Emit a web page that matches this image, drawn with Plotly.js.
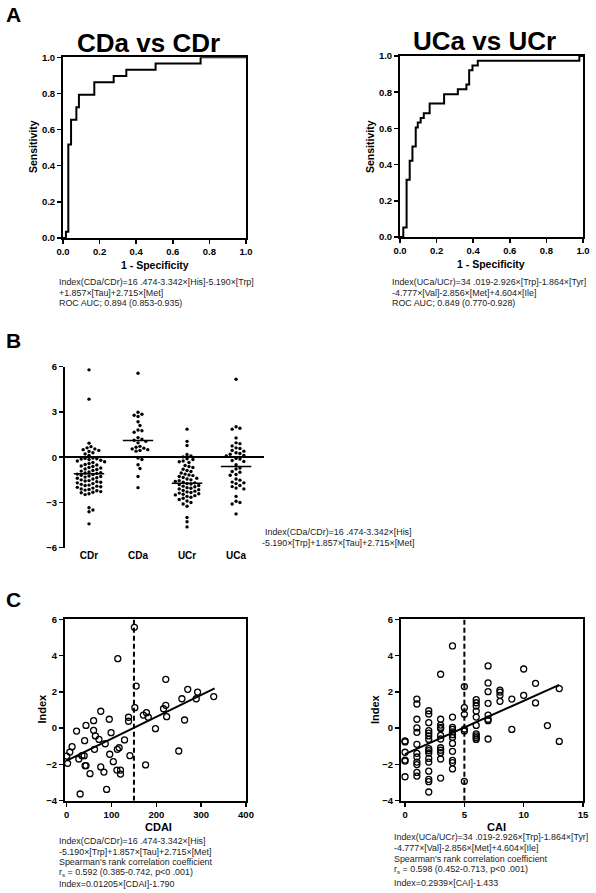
<!DOCTYPE html>
<html><head><meta charset="utf-8">
<script src="https://cdn.plot.ly/plotly-3.0.1.min.js"></script>
<style>html,body{margin:0;padding:0;background:#fff}#chart{width:596px;height:893px}</style>
</head><body><div id="chart"></div>
<script>
// ---- Panel A: ROC curves ----
const cdFpr = [0, 0.016, 0.029, 0.044, 0.073, 0.087, 0.171, 0.277, 0.346, 0.506, 0.752, 1.0];
const cdTpr = [0, 0.034, 0.517, 0.655, 0.724, 0.793, 0.862, 0.897, 0.931, 0.966, 1.0, 1.0];
const ucFpr = [0, 0.018, 0.036, 0.053, 0.068, 0.086, 0.097, 0.113, 0.130, 0.162, 0.241, 0.316, 0.363, 0.378, 0.396, 0.425, 0.980, 1.0];
const ucTpr = [0, 0.053, 0.316, 0.421, 0.500, 0.605, 0.632, 0.658, 0.684, 0.737, 0.789, 0.816, 0.842, 0.921, 0.947, 0.974, 1.0, 1.0];
const rocTicks = [0, 0.2, 0.4, 0.6, 0.8, 1.0];
const rocTickText = ['0.0', '0.2', '0.4', '0.6', '0.8', '1.0'];

// ---- Panel B: index by group ----
const groups = ['CDr', 'CDa', 'UCr', 'UCa'];
const cdrVals = [5.79, 3.85, 0.93, 0.70, 0.62, 0.55, 0.50, 0.45, 0.38, 0.30, 0.22, 0.12,
  -0.05, -0.08, -0.10, -0.12, -0.15, -0.20, -0.25, -0.30, -0.35,
  -0.42, -0.48, -0.52, -0.58, -0.62, -0.68, -0.72, -0.78, -0.82, -0.88,
  -0.92, -0.98, -1.02, -1.05, -1.08, -1.12, -1.15, -1.20,
  -1.25, -1.28, -1.32, -1.36, -1.40, -1.45,
  -1.50, -1.55, -1.58, -1.62, -1.66, -1.70, -1.75,
  -1.80, -1.85, -1.88, -1.92, -1.96, -2.00,
  -2.05, -2.10, -2.14, -2.18, -2.22,
  -2.28, -2.32, -2.36, -2.42, -2.48,
  -3.35, -3.50, -3.62, -4.42];
const cdaVals = [5.57, 2.98, 2.85, 2.78, 2.70, 2.35, 2.10, 1.80, 1.75, 1.65, 1.30, 1.20, 1.12, 1.05,
  0.95, 0.72, 0.66, 0.60, 0.55, 0.50, 0.45, 0.40, -0.05, -0.15, -0.50, -0.75, -1.28, -2.02];
const ucrVals = [1.86, 1.05, 0.78, 0.18, 0.08, 0.02, -0.10, -0.15, -0.25, -0.30, -0.35,
  -0.55, -0.62, -0.68, -0.80, -0.88, -0.95,
  -1.05, -1.12, -1.18, -1.22, -1.28, -1.35, -1.40, -1.45, -1.50, -1.55,
  -1.60, -1.65, -1.70, -1.75, -1.78, -1.82, -1.88, -1.92, -1.96,
  -2.02, -2.06, -2.10, -2.15, -2.20, -2.25, -2.30, -2.34, -2.38,
  -2.42, -2.46, -2.50, -2.55, -2.60, -2.66, -2.72, -2.80,
  -2.90, -3.00, -3.10, -3.25, -4.00, -4.28, -4.62];
const ucaVals = [5.17, 2.02, 1.92, 1.86, 1.28, 0.95, 0.90, 0.75, 0.62, 0.58, 0.45, 0.40, 0.30, 0.25, 0.20,
  0.12, 0.08, -0.08, -0.12, -0.22, -0.28, -0.50, -0.72, -0.78, -0.95, -1.00, -1.15, -1.20, -1.45,
  -1.52, -1.65, -1.70, -1.75, -1.88, -1.95, -2.05, -2.10, -2.60, -2.92, -3.00, -3.10, -3.76];
const groupCenters = [-1.10, 1.10, -1.72, -0.62];

// ---- Panel C: correlation with activity indices ----
const cdaiX = [151, 114, 155, 221, 270, 292, 328, 289, 257, 221, 216, 152, 178, 182, 171, 223, 263, 76, 138, 138, 95, 60, 43, 22, 60, 99, 198, 64, 72, 40, 129, 86, 12, 117, 113, 62, 7, 0, 39, 34, 96, 141, 27, 104, 2, 43, 41, 176, 76, 112, 120, 120, 83, 52, 250, 89, 30];
const cdaiY = [5.56, 3.83, 2.32, 2.69, 2.14, 1.99, 1.74, 1.62, 1.62, 1.26, 1.07, 1.13, 0.85, 0.60, 0.72, 0.63, 0.45, 0.93, 0.60, 0.38, 0.49, 0.41, 0.15, -0.16, -0.12, -0.25, -0.03, -0.43, -0.62, -0.69, -0.65, -0.86, -1.02, -1.08, -1.17, -1.17, -1.32, -1.54, -1.52, -1.52, -1.44, -1.52, -1.70, -1.85, -1.94, -2.07, -2.07, -2.03, -2.14, -2.31, -2.31, -2.53, -2.42, -2.51, -1.26, -3.38, -3.63];
const cdaiFitX = [0, 330];
const cdaiFitY = [-1.790, 2.187];
const cdaiCutoff = 150;

const caiX = [0,0,0,0,0,0,
  1,1,1,1,1,1,1,1,1,1,1,1,
  2,2,2,2,2,2,2,2,2,2,2,2,2,2,2,2,
  3,3,3,3,3,3,3,3,3,3,3,3,
  4,4,4,4,4,4,4,4,4,4,4,4,
  5,5,5,5,5,5,
  6,6,6,6,6,6,6,6,6,6,
  7,7,7,7,7,7,7,7,
  8,8,8,8, 9,9, 10,10, 11,11, 12, 13,13];
const caiY = [-0.71, -0.76, -1.33, -1.76, -1.82, -2.68,
  1.60, 1.33, 0.49, 0.01, -0.23, -0.89, -1.39, -1.59, -1.87, -2.01, -2.44, -2.64,
  0.96, 0.78, 0.30, -0.14, -0.27, -0.43, -0.62, -1.13, -1.24, -1.37, -1.67, -1.87, -2.37, -2.82, -2.95, -3.52,
  2.97, 0.49, 0.17, 0.04, -0.03, -0.40, -0.60, -1.08, -1.22, -1.35, -1.70, -2.75,
  4.53, 0.61, 0.04, -0.07, -0.21, -0.36, -0.51, -0.84, -1.28, -1.78, -1.90, -2.25,
  2.29, 1.13, 0.76, -0.05, -0.16, -2.93,
  1.57, 1.40, 1.22, 0.94, 0.61, 0.15, -0.32, -0.43, -0.53, -0.62,
  3.43, 2.49, 2.01, 1.37, 0.72, 0.49, 0.41, -0.60,
  2.10, 1.99, 1.81, 1.48, 1.60, -0.07, 3.26, 1.81, 2.47, 1.39, 0.14, 2.18, -0.73];
const caiFitX = [0, 13];
const caiFitY = [-1.433, 2.388];
const caiCutoff = 5;

// ---------------- layout helpers ----------------
const W = 596, H = 893;
const px = v => v / W;
const py = v => 1 - v / H;
const FONT = 'Liberation Sans, Arial, Helvetica, sans-serif';
const tickFont = {family: FONT, size: 9.5, color: '#000', weight: 'bold'};

// beeswarm layout computed from the values
function swarm(vals, center) {
  const sx = 49, sy = 15.08, d = 3.9;
  const placed = [];
  const xs = new Array(vals.length);
  const order = vals.map((v, i) => i).sort((a, b) => vals[b] - vals[a]);
  for (const i of order) {
    const yp = vals[i] * sy;
    let k = 0, off = 0;
    for (;;) {
      off = k === 0 ? 0 : (k % 2 ? 1 : -1) * Math.ceil(k / 2) * d * 0.5;
      if (!placed.some(p => Math.hypot(p[0] - off, p[1] - yp) < d)) break;
      k++;
    }
    placed.push([off, yp]);
    xs[i] = center + off / sx;
  }
  return xs;
}

const traces = [];
// A
traces.push({x: cdFpr, y: cdTpr, xaxis: 'x', yaxis: 'y', type: 'scatter', mode: 'lines',
  line: {shape: 'hv', color: '#000', width: 2}, cliponaxis: false, hoverinfo: 'skip'});
traces.push({x: ucFpr, y: ucTpr, xaxis: 'x2', yaxis: 'y2', type: 'scatter', mode: 'lines',
  line: {shape: 'hv', color: '#000', width: 2}, cliponaxis: false, hoverinfo: 'skip'});
// B
const allGroups = [cdrVals, cdaVals, ucrVals, ucaVals];
allGroups.forEach((vals, g) => {
  traces.push({x: swarm(vals, g), y: vals, xaxis: 'x3', yaxis: 'y3', type: 'scatter', mode: 'markers',
    marker: {size: 3.4, color: '#000'}, cliponaxis: false, hoverinfo: 'skip'});
  traces.push({x: [g - 0.31, g + 0.31], y: [groupCenters[g], groupCenters[g]], xaxis: 'x3', yaxis: 'y3',
    type: 'scatter', mode: 'lines', line: {color: '#000', width: 1.5}, hoverinfo: 'skip'});
});
// C left
traces.push({x: [cdaiCutoff, cdaiCutoff], y: [-4, 6], xaxis: 'x4', yaxis: 'y4', type: 'scatter', mode: 'lines',
  line: {color: '#000', width: 2, dash: '5px,3px'}, hoverinfo: 'skip'});
traces.push({x: cdaiFitX, y: cdaiFitY, xaxis: 'x4', yaxis: 'y4', type: 'scatter', mode: 'lines',
  line: {color: '#000', width: 2}, hoverinfo: 'skip'});
traces.push({x: cdaiX, y: cdaiY, xaxis: 'x4', yaxis: 'y4', type: 'scatter', mode: 'markers',
  marker: {symbol: 'circle-open', size: 6, color: '#000', line: {width: 1.3}}, cliponaxis: false, hoverinfo: 'skip'});
// C right
traces.push({x: [caiCutoff, caiCutoff], y: [-4, 6], xaxis: 'x5', yaxis: 'y5', type: 'scatter', mode: 'lines',
  line: {color: '#000', width: 2, dash: '5px,3px'}, hoverinfo: 'skip'});
traces.push({x: caiFitX, y: caiFitY, xaxis: 'x5', yaxis: 'y5', type: 'scatter', mode: 'lines',
  line: {color: '#000', width: 2}, hoverinfo: 'skip'});
traces.push({x: caiX, y: caiY, xaxis: 'x5', yaxis: 'y5', type: 'scatter', mode: 'markers',
  marker: {symbol: 'circle-open', size: 6, color: '#000', line: {width: 1.3}}, cliponaxis: false, hoverinfo: 'skip'});

function boxAxis(extra) {
  return Object.assign({showline: true, mirror: true, linewidth: 2, linecolor: '#000', ticks: 'outside',
    ticklen: 4, tickwidth: 1.5, tickcolor: '#000', showgrid: false, zeroline: false, tickfont: tickFont,
    fixedrange: true, automargin: false}, extra);
}

const layout = {
  width: W, height: H, margin: {l: 0, r: 0, t: 0, b: 0}, showlegend: false,
  paper_bgcolor: '#fff', plot_bgcolor: 'rgba(0,0,0,0)', font: {family: FONT, color: '#000'},
  xaxis: boxAxis({domain: [px(63), px(246)], range: [0, 1], anchor: 'y', tickvals: rocTicks, ticktext: rocTickText}),
  yaxis: boxAxis({domain: [py(238), py(57.3)], range: [0, 1], anchor: 'x', tickvals: rocTicks, ticktext: rocTickText}),
  xaxis2: boxAxis({domain: [px(400), px(583)], range: [0, 1], anchor: 'y2', tickvals: rocTicks, ticktext: rocTickText}),
  yaxis2: boxAxis({domain: [py(237), py(56)], range: [0, 1], anchor: 'x2', tickvals: rocTicks, ticktext: rocTickText}),
  xaxis3: {domain: [px(65), px(264)], range: [-0.49, 3.57], anchor: 'y3', showline: false, ticks: '',
    tickvals: [0, 1, 2, 3], ticktext: groups, showgrid: false, zeroline: false,
    tickfont: {family: FONT, size: 10, color: '#000', weight: 'bold'}, fixedrange: true},
  yaxis3: {domain: [py(547.7), py(366.7)], range: [-6, 6], anchor: 'x3', showline: true, linewidth: 2, linecolor: '#000',
    ticks: 'outside', ticklen: 4, tickwidth: 1.5, tickcolor: '#000', tickvals: [-6, -3, 0, 3, 6],
    showgrid: false, zeroline: true, zerolinewidth: 2, zerolinecolor: '#000', tickfont: tickFont, fixedrange: true},
  xaxis4: boxAxis({domain: [px(65), px(246)], range: [-3.8, 400], anchor: 'y4', tickvals: [0, 100, 200, 300, 400]}),
  yaxis4: boxAxis({domain: [py(800.7), py(619.3)], range: [-4, 6], anchor: 'x4', tickvals: [-4, -2, 0, 2, 4, 6]}),
  xaxis5: boxAxis({domain: [px(401), px(583)], range: [-0.34, 15], anchor: 'y5', tickvals: [0, 5, 10, 15]}),
  yaxis5: boxAxis({domain: [py(800.7), py(619.3)], range: [-4, 6], anchor: 'x5', tickvals: [-4, -2, 0, 2, 4, 6]}),
  annotations: []
};

function txt(text, x, y, opts) {
  layout.annotations.push(Object.assign({text: text, xref: 'paper', yref: 'paper', x: px(x), y: py(y),
    xanchor: 'left', yanchor: 'middle', showarrow: false,
    font: {family: FONT, size: 8.9, color: '#222'}}, opts || {}));
}
const bold = (s) => ({family: FONT, size: s, color: '#000', weight: 'bold'});
// panel letters
txt('A', 4, 15, {font: bold(21)});
txt('B', 4, 341, {font: bold(21)});
txt('C', 4, 599, {font: bold(21)});
// titles
txt('CDa vs CDr', 148, 43, {xanchor: 'center', font: bold(26)});
txt('UCa vs UCr', 484, 41, {xanchor: 'center', font: bold(26)});
// axis titles
txt('Sensitivity', 33, 147, {xanchor: 'center', textangle: -90, font: bold(10.5)});
txt('1 - Specificity', 155, 265, {xanchor: 'center', font: bold(10.5)});
txt('Sensitivity', 370, 147, {xanchor: 'center', textangle: -90, font: bold(10.5)});
txt('1 - Specificity', 491, 264, {xanchor: 'center', font: bold(10.5)});
txt('Index', 41.5, 709, {xanchor: 'center', textangle: -90, font: bold(11)});
txt('CDAI', 158, 827, {xanchor: 'center', font: bold(11)});
txt('Index', 375, 709, {xanchor: 'center', textangle: -90, font: bold(11)});
txt('CAI', 496, 827, {xanchor: 'center', font: bold(11)});
// A notes
txt('Index(CDa/CDr)=16 .474-3.342×[His]-5.190×[Trp]', 57, 282);
txt('+1.857×[Tau]+2.715×[Met]', 57, 292.5);
txt('ROC AUC; 0.894 (0.853-0.935)', 57, 303);
txt('Index(UCa/UCr)=34 .019-2.926×[Trp]-1.864×[Tyr]', 390, 282);
txt('-4.777×[Val]-2.856×[Met]+4.604×[Ile]', 390, 292.5);
txt('ROC AUC; 0.849 (0.770-0.928)', 390, 303);
// B note
txt('Index(CDa/CDr)=16 .474-3.342×[His]', 338, 532, {xanchor: 'center'});
txt('-5.190×[Trp]+1.857×[Tau]+2.715×[Met]', 338, 543, {xanchor: 'center'});
// C notes
txt('Index(CDa/CDr)=16 .474-3.342×[His]', 57, 840.5);
txt('-5.190×[Trp]+1.857×[Tau]+2.715×[Met]', 57, 851.5);
txt("Spearman's rank correlation coefficient", 57, 862);
txt('r<sub>s</sub> = 0.592 (0.385-0.742, p&lt;0 .001)', 57, 872.5);
txt('Index=0.01205×[CDAI]-1.790', 57, 883.5);
txt('Index(UCa/UCr)=34 .019-2.926×[Trp]-1.864×[Tyr]', 391.5, 836.5);
txt('-4.777×[Val]-2.856×[Met]+4.604×[Ile]', 391.5, 847.5);
txt("Spearman's rank correlation coefficient", 391.5, 858.5);
txt('r<sub>s</sub> = 0.598 (0.452-0.713, p&lt;0 .001)', 391.5, 869);
txt('Index=0.2939×[CAI]-1.433', 391.5, 882.5);

Plotly.newPlot('chart', traces, layout, {staticPlot: true, displayModeBar: false});
</script>
</body></html>
